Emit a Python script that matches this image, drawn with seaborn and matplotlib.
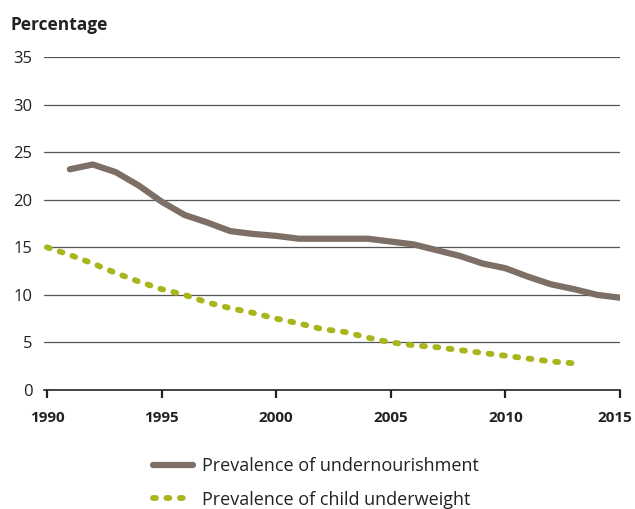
import matplotlib
matplotlib.use("Agg")
import matplotlib.pyplot as plt
import matplotlib.transforms as mtransforms
import seaborn as sns
import pandas as pd
from matplotlib.lines import Line2D

years_under = list(range(1991, 2016))
undernourishment = [23.2, 23.7, 22.9, 21.5, 19.8, 18.4, 17.6, 16.7, 16.4, 16.2,
                    15.9, 15.9, 15.9, 15.9, 15.6, 15.3, 14.7, 14.1, 13.3, 12.8,
                    11.9, 11.1, 10.6, 10.0, 9.7]
years_child = list(range(1990, 2014))
child_underweight = [15.0, 14.2, 13.3, 12.3, 11.4, 10.6, 10.0, 9.2, 8.6, 8.1,
                     7.5, 7.0, 6.4, 6.1, 5.5, 5.0, 4.7, 4.5, 4.2, 3.9,
                     3.6, 3.3, 3.0, 2.8]
x_ticks = [1990, 1995, 2000, 2005, 2010, 2015]
y_ticks = [0, 5, 10, 15, 20, 25, 30, 35]
label_under = "Prevalence of undernourishment"
label_child = "Prevalence of child underweight"

sns.set_theme(style="white")
plt.rcParams['font.family'] = ['Open Sans', 'DejaVu Sans']

brown = "#7d6f66"
green = "#a9b51c"
dot_style = (0, (0.5, 1.8))
dot_lw = 4.2

fig = plt.figure(figsize=(6.35, 5.09), dpi=100)
ax = fig.add_axes([43.5/635, 1 - 390/509, (620 - 43.5)/635, (390 - 57)/509])

for y in y_ticks[1:]:
    ax.axhline(y, color="#555555", lw=0.9, zorder=1)

df_u = pd.DataFrame({"year": years_under, "value": undernourishment})
df_c = pd.DataFrame({"year": years_child, "value": child_underweight})

sns.lineplot(data=df_u, x="year", y="value", ax=ax, color=brown, lw=4.5,
             solid_capstyle="round", zorder=3, legend=False)
sns.lineplot(data=df_c, x="year", y="value", ax=ax, color=green, lw=dot_lw,
             zorder=3, legend=False)
ax.lines[-1].set_linestyle(dot_style)
ax.lines[-1].set_dash_capstyle("round")

ax.set_xlim(1989.85, 2015)
ax.set_ylim(0, 35)
ax.set_xticks(x_ticks)
ax.set_yticks(y_ticks)
ax.set_xlabel("")
ax.set_ylabel("")
for s in ["top", "right", "left"]:
    ax.spines[s].set_visible(False)
ax.spines["bottom"].set_color("#222222")
ax.spines["bottom"].set_linewidth(1.2)
ax.tick_params(axis="x", direction="out", length=6, width=1.6, color="#222222",
               pad=9, labelsize=11, bottom=True)
ax.tick_params(axis="y", length=0, pad=8, labelsize=12, labelcolor="#222222")
xl = ax.get_xticklabels()
for t in xl:
    t.set_fontweight("bold")
    t.set_color("#222222")
xl[-1].set_transform(xl[-1].get_transform() +
                     mtransforms.ScaledTranslation(-5/100, 0, fig.dpi_scale_trans))

fig.text(10/635, 1 - 25/509, "Percentage", fontsize=12.5, fontweight="bold",
         color="#222222", va="center", ha="left")

h1 = Line2D([], [], color=brown, lw=4.5, solid_capstyle="round")
h2 = Line2D([], [], color=green, lw=dot_lw, linestyle=dot_style, dash_capstyle="round")
fig.legend([h1, h2], [label_under, label_child], loc="upper left",
           bbox_to_anchor=(137/635, 1 - 441/509), frameon=False, fontsize=13,
           handlelength=2.2, handletextpad=0.5, labelspacing=0.85,
           labelcolor="#222222")

fig.savefig("out.png", dpi=100)
